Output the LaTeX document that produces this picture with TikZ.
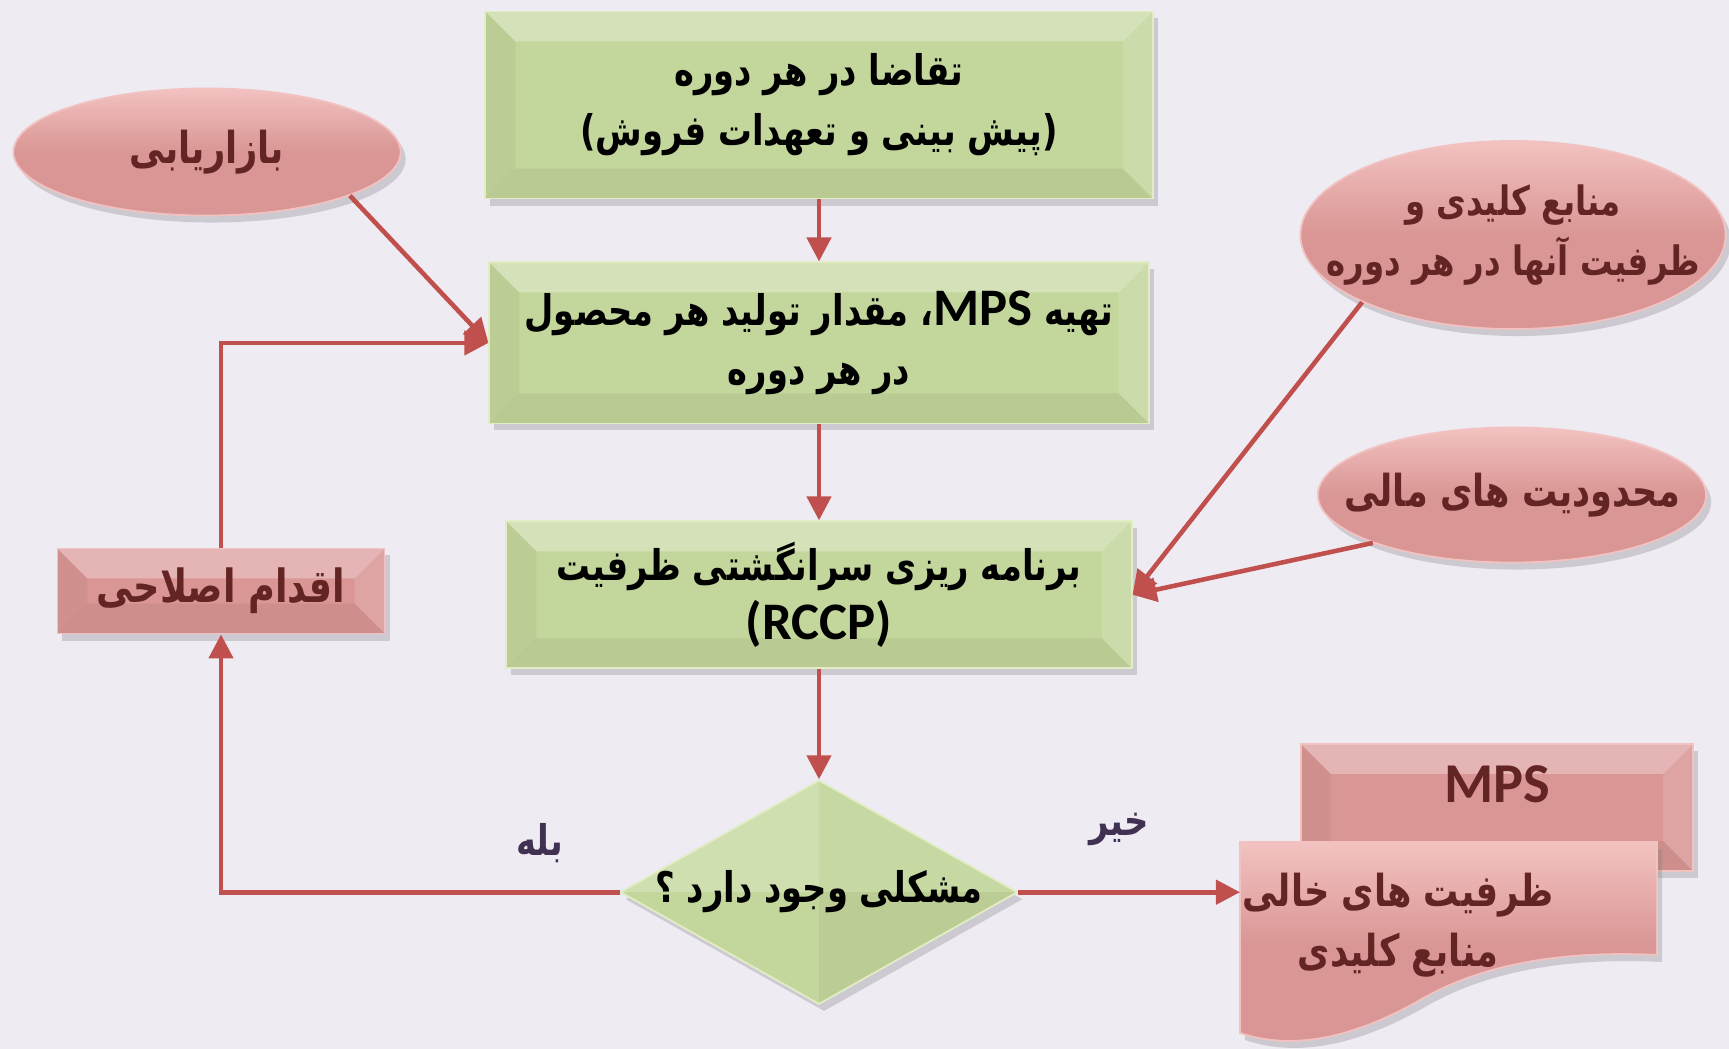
\documentclass[tikz,border=0pt]{standalone}
\usepackage{fontspec}
\usetikzlibrary{arrows.meta,positioning,shapes.geometric,shadows,calc}
\TeXXeTstate=1
\newfontfamily\persianfont[Script=Arabic, FakeStretch=0.8]{DejaVu Sans}
\newfontfamily\latinfont{Carlito}
\definecolor{bgpage}{HTML}{EEEBF3}
\definecolor{leaf}{HTML}{C3D69B}
\definecolor{leaflight}{HTML}{E2EDC6}
\definecolor{rose}{HTML}{D99694}
\definecolor{roselight}{HTML}{F2C2C1}
\definecolor{wine}{HTML}{632523}
\definecolor{link}{HTML}{C0504D}
\definecolor{grape}{HTML}{403152}
\newcommand{\latinpart}[1]{\beginL{\fontsize{15}{17}\selectfont\latinfont\bfseries #1}\endL}
\tikzset{
  bevel/.style={path picture={
    \path (path picture bounding box.north west) coordinate (bNW)
          (path picture bounding box.north east) coordinate (bNE)
          (path picture bounding box.south east) coordinate (bSE)
          (path picture bounding box.south west) coordinate (bSW);
    \fill[white, opacity=.3] (bNW) -- (bNE) -- ([shift={(-#1,-#1)}]bNE) -- ([shift={(#1,-#1)}]bNW) -- cycle;
    \fill[white, opacity=.14] (bNE) -- (bSE) -- ([shift={(-#1,#1)}]bSE) -- ([shift={(-#1,-#1)}]bNE) -- cycle;
    \fill[black, opacity=.05] (bSE) -- (bSW) -- ([shift={(#1,#1)}]bSW) -- ([shift={(-#1,#1)}]bSE) -- cycle;
    \fill[black, opacity=.04] (bSW) -- (bNW) -- ([shift={(#1,-#1)}]bNW) -- ([shift={(#1,#1)}]bSW) -- cycle;
  }}, bevel/.default=3mm,
  facets/.style={path picture={
    \path (path picture bounding box.center) coordinate (fC);
    \fill[white, opacity=.22] (path picture bounding box.west) -- (path picture bounding box.north) -- (fC) -- cycle;
    \fill[white, opacity=.08] (path picture bounding box.north) -- (path picture bounding box.east) -- (fC) -- cycle;
    \fill[black, opacity=.04] (path picture bounding box.east) -- (path picture bounding box.south) -- (fC) -- cycle;
  }},
  soft/.style={drop shadow={opacity=.3, shadow xshift=.5mm, shadow yshift=-.7mm}},
  stepbox/.style={rectangle, draw=leaflight, fill=leaf, line width=0.5pt, bevel, soft,
                  align=center, inner sep=0pt,
                  font=\fontsize{12}{17}\selectfont\persianfont\bfseries},
  fixbox/.style={stepbox, draw=roselight, fill=rose, text=wine},
  askbox/.style={diamond, draw=leaflight, fill=leaf, line width=0.5pt, facets, soft,
                 inner sep=0pt, font=\fontsize{12}{17}\selectfont\persianfont\bfseries},
  cloud/.style={ellipse, draw=roselight, top color=roselight, bottom color=rose, middle color=rose,
                line width=0.5pt, soft, align=center, inner xsep=-7mm, inner ysep=0pt, text=wine,
                font=\fontsize{12.5}{17}\selectfont\persianfont\bfseries},
  answer/.style={text=grape, font=\fontsize{12}{17}\selectfont\persianfont\bfseries},
  flow/.style={-{Triangle[length=2.4mm, width=2.4mm]}, draw=link, line width=1.3pt}
}
\begin{document}
\begin{tikzpicture}[x=0.01cm, y=-0.01cm]
  \useasboundingbox (0,0) rectangle (1729,1049);
  \fill[bgpage] (0,0) rectangle (1729,1049);
  % main column
  \node[stepbox, minimum width=6.67cm, minimum height=1.87cm] (demand) at (819,105)
    {\beginR تقاضا در هر دوره\endR\\\beginR(پیش بینی و تعهدات فروش)\endR};
  \node[stepbox, below=6.2mm of demand, minimum width=6.59cm, minimum height=1.61cm] (mps)
    {\beginR تهیه \latinpart{MPS}، مقدار تولید هر محصول\endR\\\beginR در هر دوره\endR};
  \node[stepbox, below=9.6mm of mps, minimum width=6.25cm, minimum height=1.47cm] (rccp)
    {\beginR برنامه ریزی سرانگشتی ظرفیت\endR\\\latinpart{(RCCP)}};
  \node[askbox, below=11mm of rccp, minimum width=3.97cm, minimum height=2.24cm] (ask)
    {\raisebox{-1mm}[0pt][0pt]{\makebox[0pt]{\beginR مشکلی وجود دارد ؟\endR}}};
  % side inputs
  \node[cloud, minimum width=3.87cm, minimum height=1.27cm] (market) at (207,152)
    {\beginR بازاریابی\endR};
  \node[cloud, minimum width=4.25cm, minimum height=1.88cm,
        font=\fontsize{11.5}{17}\selectfont\persianfont\bfseries] (res) at (1513,235)
    {\beginR منابع کلیدی و\endR\\\beginR ظرفیت آنها در هر دوره\endR};
  \node[cloud, minimum width=3.88cm, minimum height=1.35cm] (money) at (1512,495)
    {\beginR محدودیت های مالی\endR};
  \node[fixbox, minimum width=3.27cm, minimum height=0.85cm,
        font=\fontsize{13}{17}\selectfont\persianfont\bfseries] (fix) at (221,591)
    {\beginR اقدام اصلاحی\endR};
  % outputs
  \node[fixbox, minimum width=3.92cm, text height=3.9mm, text depth=4.8mm, inner ysep=2mm,
        font=\fontsize{16}{18}\selectfont\latinfont\bfseries] (mpsout) at (1497,807.5) {MPS};
  \path[draw=roselight, top color=roselight, bottom color=rose, middle color=rose, line width=0.5pt, soft]
    (1240,842) -- (1657,842) -- (1657,955)
    .. controls (1560,950) and (1480,965) .. (1420,1000)
    .. controls (1350,1040) and (1290,1050) .. (1240,1033) -- cycle;
  \coordinate (docin) at (1240,891);
  \node[text=wine, align=center, font=\fontsize{12.5}{17}\selectfont\persianfont\bfseries] (doc) at (1398,925)
    {\beginR ظرفیت های خالی\endR\\\beginR منابع کلیدی\endR};
  % answers
  \node[answer] (yes) at (540,843) {\beginR بله\endR};
  \node[answer] (no) at (1119,829) {\beginR خیر\endR};
  % connectors
  \draw[flow] (demand) -- (mps);
  \draw[flow] (mps) -- (rccp);
  \draw[flow] (rccp) -- (ask);
  \draw[flow] (market.-17) -- (mps.west);
  \draw[flow] (fix.north) |- (mps.west);
  \draw[flow] (ask.west) -| (fix.south);
  \draw[flow] (ask.east) -- (docin |- ask.east);
  \draw[flow] (res.204) -- (rccp.east);
  \draw[flow] (money.199) -- (rccp.east);
\end{tikzpicture}
\end{document}
